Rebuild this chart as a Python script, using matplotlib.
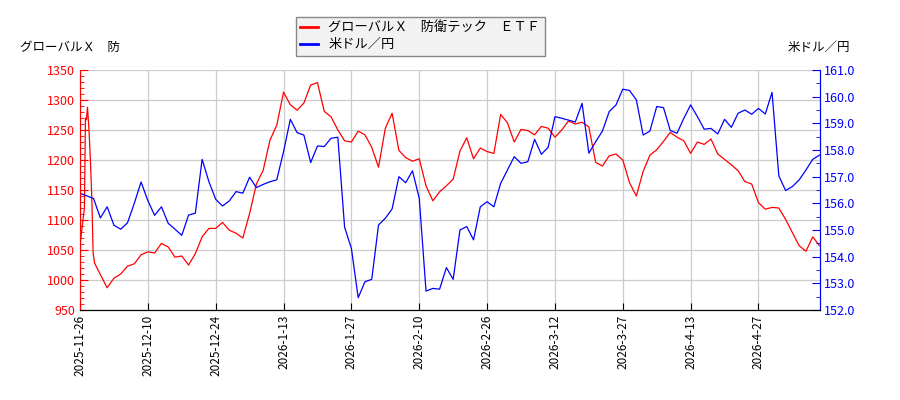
import matplotlib
matplotlib.use("Agg")
import matplotlib.pyplot as plt
from matplotlib.ticker import MultipleLocator, FormatStrFormatter

plt.rcParams['font.family'] = ['Noto Sans CJK JP', 'DejaVu Sans']

# noms des séries
nom_etf = "グローバルＸ　防衛テック　ＥＴＦ"
nom_usd = "米ドル／円"

# étiquettes de dates (une tous les 10 jours de bourse)
date_pos = [0, 10, 20, 30, 40, 50, 60, 70, 80, 90, 100]
date_lab = ["2025-11-26", "2025-12-10", "2025-12-24", "2026-1-13", "2026-1-27",
            "2026-2-10", "2026-2-26", "2026-3-12", "2026-3-27", "2026-4-13", "2026-4-27"]

# ETF : début irrégulier (points rapprochés) puis un point par jour
etf_x_debut = [0, 0.65, 0.8, 0.95, 1.1, 1.35, 1.55, 1.75, 1.93, 2.15]
etf_v_debut = [1058, 1120, 1270, 1267, 1288, 1245, 1195, 1133, 1045, 1028]
etf_v = [1009, 987, 1003, 1010, 1023, 1027, 1042, 1047, 1045, 1061,
         1055, 1038, 1040, 1025, 1044, 1072, 1086, 1086, 1096, 1083,
         1078, 1070, 1111, 1160, 1183, 1233, 1258, 1313, 1292, 1283,
         1295, 1325, 1329, 1281, 1272, 1250, 1232, 1230, 1248, 1242,
         1221, 1188, 1253, 1278, 1216, 1204, 1198, 1202, 1157, 1132,
         1147, 1157, 1168, 1215, 1237, 1202, 1220, 1214, 1211, 1276,
         1262, 1230, 1251, 1249, 1242, 1256, 1253, 1238, 1250, 1265,
         1260, 1263, 1255, 1196, 1190, 1207, 1210, 1200, 1162, 1140,
         1181, 1208, 1217, 1231, 1246, 1238, 1232, 1211, 1230, 1226,
         1235, 1210, 1201, 1192, 1182, 1164, 1160, 1129, 1118, 1121,
         1120, 1101, 1079, 1057, 1048, 1072, 1057]

# dollar / yen, un point par jour
usd_v = [156.38, 156.28, 156.18, 155.45, 155.87, 155.18, 155.03, 155.27, 156.0, 156.8,
         156.1, 155.55, 155.87, 155.25, 155.03, 154.8, 155.56, 155.63, 157.65, 156.81,
         156.15, 155.9, 156.09, 156.44, 156.38, 156.98, 156.59, 156.71, 156.81, 156.88,
         157.94, 159.15, 158.65, 158.56, 157.53, 158.15, 158.13, 158.44, 158.48, 155.1,
         154.31, 152.46, 153.06, 153.15, 155.19, 155.44, 155.79, 157.0, 156.77, 157.22,
         156.19, 152.71, 152.81, 152.78, 153.59, 153.15, 155.0, 155.13, 154.63, 155.87,
         156.06, 155.87, 156.75, 157.25, 157.75, 157.5, 157.56, 158.4, 157.84, 158.1,
         159.25, 159.19, 159.12, 159.05, 159.75, 157.88, 158.31, 158.71, 159.44, 159.69,
         160.28, 160.23, 159.88, 158.56, 158.71, 159.63, 159.59, 158.73, 158.63, 159.19,
         159.69, 159.25, 158.78, 158.81, 158.6, 159.15, 158.85, 159.38, 159.5, 159.34,
         159.56, 159.35, 160.16, 157.03, 156.48, 156.63, 156.88, 157.25, 157.65, 157.81]

etf_x = etf_x_debut + list(range(3, 3 + len(etf_v)))
etf_y = etf_v_debut + etf_v
usd_x = list(range(len(usd_v)))

fig = plt.figure(figsize=(9, 4), dpi=100)
ax = fig.add_axes([0.0889, 0.225, 0.8217, 0.60])
ax2 = ax.twinx()

l1, = ax.plot(etf_x, etf_y, color='red', lw=0.9)
l2, = ax2.plot(usd_x, usd_v, color='blue', lw=0.9)

ax.set_xlim(0, len(usd_v) - 1)
ax.set_ylim(950, 1350)
ax2.set_ylim(152, 161)

ax.yaxis.set_major_locator(MultipleLocator(50))
ax.yaxis.set_minor_locator(MultipleLocator(10))
ax2.yaxis.set_major_locator(MultipleLocator(1))
ax2.yaxis.set_minor_locator(MultipleLocator(0.5))
ax2.yaxis.set_major_formatter(FormatStrFormatter('%.1f'))

ax.set_xticks(date_pos)
ax.set_xticklabels(date_lab, rotation=90, fontsize=8.5)

ax.grid(True, color='#cccccc', lw=0.9)
ax.set_axisbelow(True)

ax.tick_params(axis='y', which='both', direction='in', colors='red', labelsize=9)
ax.tick_params(axis='y', which='major', length=6)
ax.tick_params(axis='y', which='minor', length=3)
ax.tick_params(axis='x', direction='in', length=5)
ax2.tick_params(axis='y', which='both', direction='in', colors='blue', labelsize=9)
ax2.tick_params(axis='y', which='major', length=6)
ax2.tick_params(axis='y', which='minor', length=3)

for a in (ax, ax2):
    a.spines['top'].set_visible(False)
ax2.spines['left'].set_color('red')
ax2.spines['right'].set_color('blue')
ax.spines['left'].set_color('red')
ax2.spines['bottom'].set_color('black')

fig.text(0.022, 0.882, "グローバルＸ　防", fontsize=9, va='center', ha='left')
fig.text(0.945, 0.882, nom_usd, fontsize=9, va='center', ha='right')

leg = fig.legend([l1, l2], [nom_etf, nom_usd], loc='upper center',
                 bbox_to_anchor=(0.467, 0.975), fontsize=9.5, fancybox=False,
                 framealpha=1, handlelength=1.3, borderpad=0.35, labelspacing=0.3)
leg.get_frame().set_facecolor('#f2f2f2')
leg.get_frame().set_edgecolor('#888888')
for h in leg.get_lines():
    h.set_linewidth(2)

fig.savefig("out.png", dpi=100)
